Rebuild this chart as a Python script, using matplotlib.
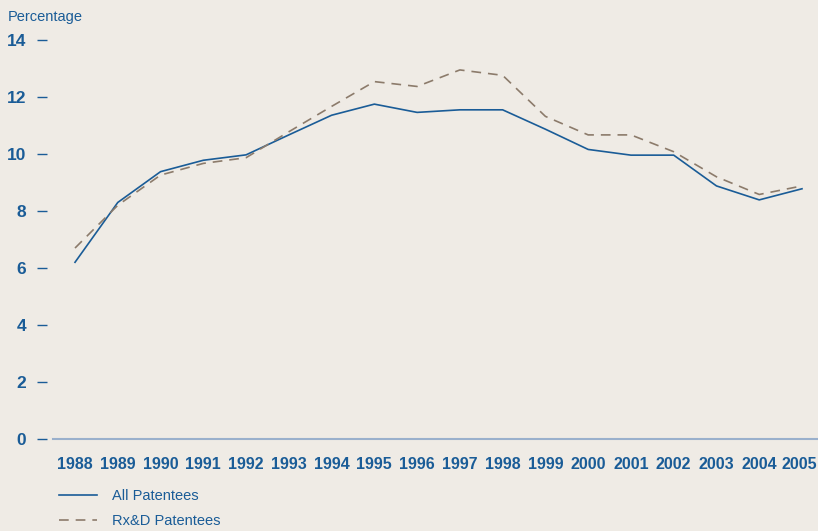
import numpy as np
import matplotlib
matplotlib.use('Agg')
from matplotlib import pyplot as plt
from matplotlib.transforms import ScaledTranslation

plt.rcParams['lines.scale_dashes'] = False

# values
years = list(range(1988, 2006))
all_patentees = [6.2, 8.3, 9.38, 9.78, 9.97, 10.67, 11.36, 11.75, 11.46, 11.55,
                 11.55, 10.87, 10.16, 9.96, 9.96, 8.88, 8.39, 8.78]
rxd_patentees = [6.7, 8.2, 9.26, 9.67, 9.87, 10.78, 11.67, 12.54, 12.37, 12.95,
                 12.76, 11.32, 10.67, 10.67, 10.08, 9.2, 8.58, 8.88]
yticks = [0, 2, 4, 6, 8, 10, 12, 14]

bg = '#efebe5'
blue = '#1a5c97'
dash_col = '#8c7b6b'
narrow = ['Liberation Sans', 'DejaVu Sans']

fig = plt.figure(figsize=(8.18, 5.31), dpi=100, facecolor=bg)
ax = fig.add_axes([47 / 818, 92 / 531, 1 - 47 / 818, 399 / 531])
ax.set_facecolor(bg)

l1, = ax.plot(years, all_patentees, color=blue, lw=1.2, label='All Patentees',
              clip_on=False)
l2, = ax.plot(years, rxd_patentees, color=dash_col, lw=1.2, dashes=(7, 5),
              label='Rx&D Patentees', clip_on=False)

step = 42.76  # px per year
xmin, xmax = 1988 - 28 / step, 2005 + 16 / step
ax.set_xlim(xmin, xmax)
ax.set_ylim(0, 14)

for s in ['top', 'right', 'left']:
    ax.spines[s].set_visible(False)
ax.spines['bottom'].set_color('#9ab0cc')
ax.spines['bottom'].set_linewidth(1.5)
ax.spines['bottom'].set_bounds(1988 - 22 / step, xmax)

ax.set_yticks(yticks)
ax.set_yticklabels([str(v) for v in yticks], fontfamily=narrow,
                   fontweight='bold', fontsize=12.5, color=blue)
ax.tick_params(axis='y', length=7, width=1, color=blue, pad=8, direction='out')
ax.set_xticks(years)
ax.set_xticklabels([str(y) for y in years], fontfamily=narrow,
                   fontweight='bold', fontsize=11.5, color=blue)
ax.tick_params(axis='x', length=0, pad=13)
# keep the last year inside the picture
last = ax.get_xticklabels()[-1]
last.set_transform(last.get_transform() + ScaledTranslation(-3 / 100, 0, fig.dpi_scale_trans))

fig.text(8 / 818, 1 - 17 / 531, 'Percentage', fontfamily=narrow, fontsize=10.5,
         color=blue, va='center', ha='left')

leg = fig.legend(handles=[l1, l2], loc='upper left',
                 bbox_to_anchor=(46 / 818, 1 - 476 / 531), frameon=False,
                 handlelength=2.6, handletextpad=1.0, labelspacing=0.75,
                 prop={'family': narrow, 'size': 10.5})
for t in leg.get_texts():
    t.set_color(blue)

plt.savefig('out.png', dpi=100, facecolor=bg)
